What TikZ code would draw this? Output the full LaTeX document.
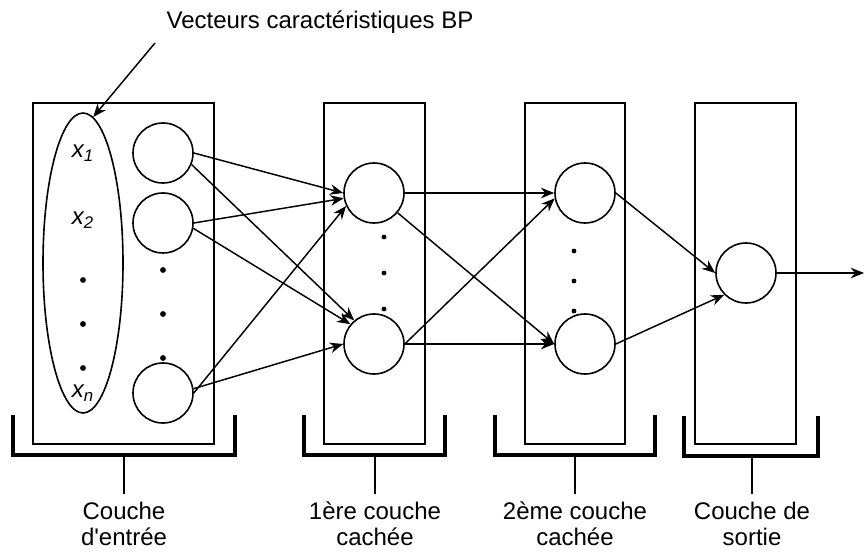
\documentclass[tikz,border=0pt]{standalone}
\usepackage{fontspec}
\setmainfont{Liberation Sans}
\usetikzlibrary{arrows.meta,shapes.geometric}

\tikzset{
  neuron/.style={circle, draw, line width=1.2pt, minimum size=45pt, inner sep=0pt},
  layerbox/.style={line width=1.2pt},
  brace/.style={line width=2.6pt},
  conn/.style={line width=1.1pt, -{Stealth[length=10pt,width=8pt]}},
  lbl/.style={font=\fontsize{18}{19.5}\selectfont, align=center, inner sep=1pt},
  layername/.style={lbl, anchor=north, inner ysep=6pt},
  xlbl/.style={font=\fontsize{18}{20}\selectfont\itshape, inner sep=0pt}
}

\begin{document}
\begin{tikzpicture}[x=0.75pt, y=-0.75pt]
  \useasboundingbox (0,0) rectangle (864,552);

  % layer boxes
  \draw[layerbox] (33,103) rectangle (214,444);
  \draw[layerbox] (324,103) rectangle (425,444);
  \draw[layerbox] (525,103) rectangle (625,444);
  \draw[layerbox] (695,103) rectangle (796,444);

  % input vector
  \node[ellipse, draw, line width=1.2pt, minimum width=60pt, minimum height=225pt, inner sep=0pt] (vec) at (83,263) {};
  \node[xlbl] (x1) at (83,153) {x\textsubscript{1}};
  \node[xlbl] (x2) at (83,220) {x\textsubscript{2}};
  \node[xlbl] (xn) at (83,393) {x\textsubscript{n}};
  \foreach \y in {280,324,368}
    \fill (83,\y) circle[radius=2.2pt];

  % neurons
  \node[neuron] (in1) at (163,153) {};
  \node[neuron] (in2) at (163,223) {};
  \node[neuron] (in3) at (163,393) {};
  \foreach \y in {270,314,358}
    \fill (163,\y) circle[radius=2.2pt];

  \node[neuron] (h1a) at (374,193) {};
  \node[neuron] (h1b) at (374,344) {};
  \foreach \y in {237,273,309}
    \fill (384,\y) circle[radius=1.8pt];

  \node[neuron] (h2a) at (585,193) {};
  \node[neuron] (h2b) at (585,344) {};
  \foreach \y in {251,281,311}
    \fill (574,\y) circle[radius=1.8pt];

  \node[neuron] (out) at (746,273) {};
  \coordinate (yout) at (864,273);

  % connections
  \draw[conn] (in1.east) -- (h1a.west);
  \draw[conn] (in1.-22) -- (h1b.130);
  \draw[conn] (in2.east) -- (h1a.190);
  \draw[conn] (in2.-10) -- (h1b.140);
  \draw[conn] (in3.east) -- (h1a.205);
  \draw[conn] (in3.8) -- (h1b.west);

  \draw[conn] (h1a.east) -- (h2a.west);
  \draw[conn] (h1a.-40) -- (h2b.west);
  \draw[conn] (h1b.east) -- (h2a.190);
  \draw[conn] (h1b.east) -- (h2b.west);

  \draw[conn] (h2a.east) -- (out.west);
  \draw[conn] (h2b.east) -- (out.225);
  \draw[conn] (out.east) -- (yout);

  % annotation
  \node[lbl] (note) at (320,22) {Vecteurs caractéristiques BP};
  \coordinate (notefoot) at (155,43);
  \draw[conn] (notefoot) -- (vec.86);

  % brackets and layer names
  \draw[brace] (13,415) -- (13,455) -- (235,455) -- (235,415);
  \node[layername] (Lin) at (124,494) {Couche\\d\textquotesingle entrée};
  \draw[brace, line width=2pt] (124,455) -- (Lin.north);

  \draw[brace] (304,415) -- (304,455) -- (445,455) -- (445,415);
  \node[layername] (Lh1) at (375,494) {1ère couche\\cachée};
  \draw[brace, line width=2pt] (375,455) -- (Lh1.north);

  \draw[brace] (495,415) -- (495,455) -- (655,455) -- (655,415);
  \node[layername] (Lh2) at (575,494) {2ème couche\\cachée};
  \draw[brace, line width=2pt] (575,455) -- (Lh2.north);

  \draw[brace] (684,416) -- (684,456) -- (818,456) -- (818,416);
  \node[layername] (Lout) at (752,494) {Couche de\\sortie};
  \draw[brace, line width=2pt] (752,456) -- (Lout.north);
\end{tikzpicture}
\end{document}
